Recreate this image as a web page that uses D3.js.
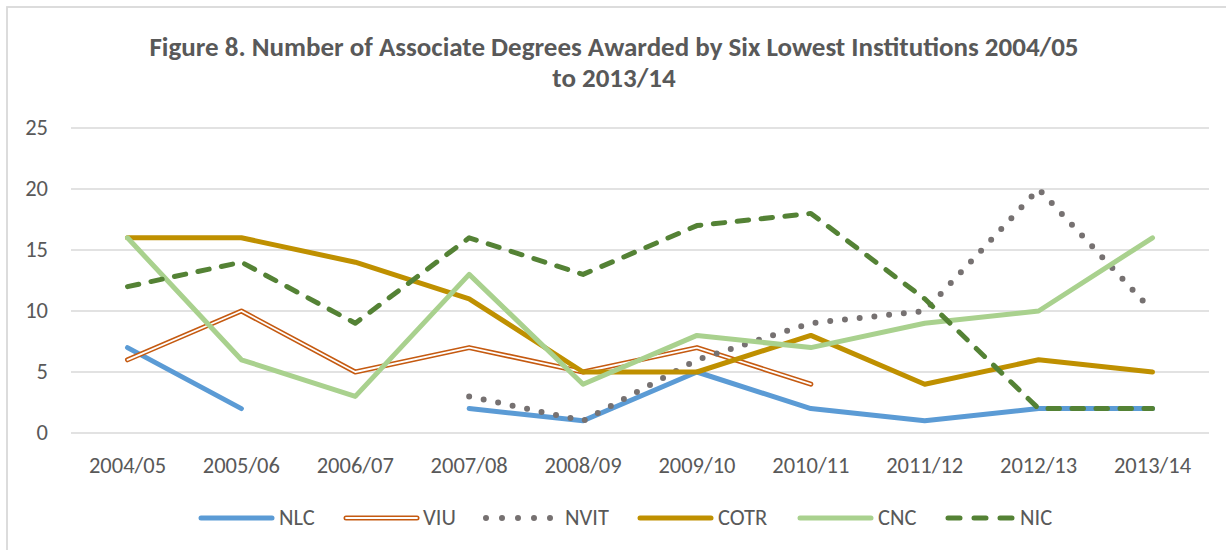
<!DOCTYPE html>
<html>
<head>
<meta charset="utf-8">
<title>Figure 8</title>
<script src="https://d3js.org/d3.v7.min.js"></script>
<style>
  body { margin: 0; background: #fff; }
  svg text { font-family: Calibri, Carlito, "Open Sans", "Noto Sans", sans-serif; }
</style>
</head>
<body>
<div id="chart"></div>
<script>
// data
var years = ["2004/05","2005/06","2006/07","2007/08","2008/09","2009/10","2010/11","2011/12","2012/13","2013/14"];
var yTicks = [0, 5, 10, 15, 20, 25];
var NLC  = [7, 2, null, 2, 1, 5, 2, 1, 2, 2];
var VIU  = [6, 10, 5, 7, 5, 7, 4, null, null, null];
var NVIT = [null, null, null, 3, 1, 6, 9, 10, 20, 10];
var COTR = [16, 16, 14, 11, 5, 5, 8, 4, 6, 5];
var CNC  = [16, 6, 3, 13, 4, 8, 7, 9, 10, 16];
var NIC  = [12, 14, 9, 16, 13, 17, 18, 11, 2, 2];

var series = [
  {name: "NLC", values: NLC, color: "#5B9BD5", type: "solid"},
  {name: "VIU", values: VIU, color: "#C55A11", type: "double"},
  {name: "NVIT", values: NVIT, color: "#767171", type: "dot"},
  {name: "COTR", values: COTR, color: "#BF9000", type: "solid"},
  {name: "CNC", values: CNC, color: "#A9D18E", type: "solid"},
  {name: "NIC", values: NIC, color: "#548235", type: "dash"}
];

var W = 1226, H = 550;
var svg = d3.select("#chart").append("svg")
    .attr("width", W).attr("height", H);

// chart frame (only top/left edge visible)
svg.append("rect")
    .attr("x", 7).attr("y", 7)
    .attr("width", W + 20).attr("height", H + 20)
    .attr("fill", "none").attr("stroke", "#d9d9d9").attr("stroke-width", 1.8);

// title
var title = svg.append("text")
    .attr("text-anchor", "middle")
    .attr("fill", "#595959")
    .style("font-size", "27px")
    .style("font-weight", "bold");
title.append("tspan").attr("x", 614).attr("y", 56)
    .text("Figure 8. Number of Associate Degrees Awarded by Six Lowest Institutions 2004/05");
title.append("tspan").attr("x", 614).attr("y", 87).text("to 2013/14");

var x = d3.scalePoint().domain(years).range([127.5, 1152.5]);
var y = d3.scaleLinear().domain([0, 25]).range([433, 128]);

// gridlines
svg.append("g").selectAll("line")
    .data(yTicks).enter().append("line")
    .attr("x1", 71).attr("x2", 1209)
    .attr("y1", function(d) { return y(d); })
    .attr("y2", function(d) { return y(d); })
    .attr("stroke", "#d9d9d9").attr("stroke-width", 1.3);

// y axis labels
svg.append("g").selectAll("text")
    .data(yTicks).enter().append("text")
    .attr("x", 48).attr("y", function(d) { return y(d); })
    .attr("dy", "0.33em")
    .attr("text-anchor", "end")
    .attr("fill", "#595959")
    .style("font-size", "22.5px")
    .text(function(d) { return d; });

// x axis labels
svg.append("g").selectAll("text")
    .data(years).enter().append("text")
    .attr("x", function(d) { return x(d); }).attr("y", 473)
    .attr("text-anchor", "middle")
    .attr("fill", "#595959")
    .style("font-size", "22.5px")
    .text(function(d) { return d; });

var line = d3.line()
    .defined(function(d) { return d != null; })
    .x(function(d, i) { return x(years[i]); })
    .y(function(d) { return y(d); });

function styleLine(sel, s) {
  sel.attr("fill", "none")
     .attr("stroke", s.color)
     .attr("stroke-width", 5)
     .attr("stroke-linecap", "round")
     .attr("stroke-linejoin", "round");
  if (s.type == "dot") {
    sel.attr("stroke-width", 6).attr("stroke-dasharray", "0 14.8");
  }
  if (s.type == "dash") {
    sel.attr("stroke-dasharray", "11.5 12.5");
  }
}

function whiteCore(g, d) {
  g.append("path").attr("d", d)
    .attr("fill", "none").attr("stroke", "#fff")
    .attr("stroke-width", 1.8).attr("stroke-linecap", "round")
    .attr("stroke-linejoin", "round");
}

var plot = svg.append("g");
series.forEach(function(s) {
  var p = plot.append("path").attr("d", line(s.values));
  styleLine(p, s);
  if (s.type == "double") whiteCore(plot, line(s.values));
});

// legend
var legendX = [201, 346, 486, 640, 800, 948];
var legendLen = [71, 71, 65, 71, 71, 65];
var legendTx = [279, 423, 565, 718, 878, 1020];
var legendY = 518;
var lg = svg.append("g");
series.forEach(function(s, i) {
  var d = "M" + legendX[i] + "," + legendY + "H" + (legendX[i] + legendLen[i]);
  var p = lg.append("path").attr("d", d);
  styleLine(p, s);
  if (s.type == "dot") p.attr("stroke-dasharray", "0 16");
  if (s.type == "dash") p.attr("stroke-dasharray", "12 14");
  if (s.type == "double") whiteCore(lg, d);
  lg.append("text")
    .attr("x", legendTx[i])
    .attr("y", legendY).attr("dy", "0.33em")
    .attr("fill", "#595959")
    .style("font-size", "22.5px")
    .text(s.name);
});
</script>
</body>
</html>
